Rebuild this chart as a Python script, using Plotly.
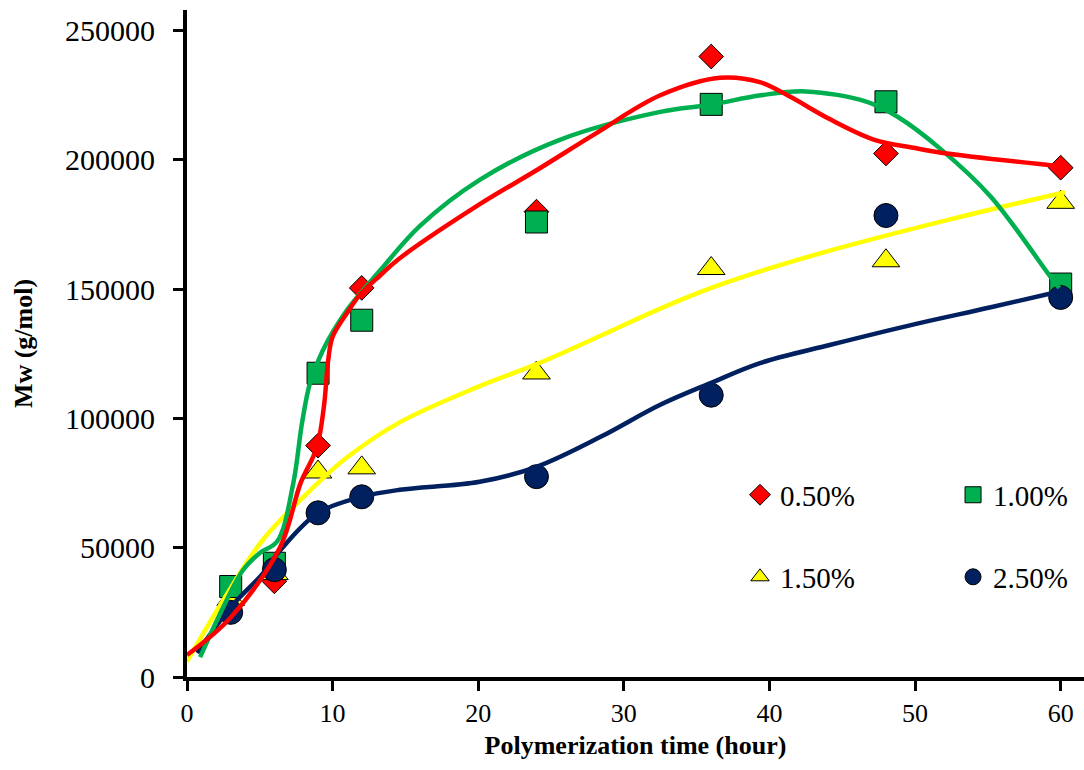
import plotly.graph_objects as go

# ---- marker data (measured points) ----
time_h = [3, 6, 9, 12, 24, 36, 48, 60]
mw_050 = [28000, 37000, 89500, 150500, 180000, 240000, 202500, 197000]
mw_100 = [35000, 44000, 117500, 138000, 176000, 221500, 222500, 152000]
mw_150 = [30000, 40000, 79300, 80900, 117600, 158000, 161000, 183600]
mw_250 = [25000, 41500, 63500, 69700, 77500, 109000, 178500, 146800]

# ---- smoothed trend curves ----
curve_050_t = [0, 3, 6.4, 7.8, 8.9, 9.4, 9.7, 10.0, 11, 11.9, 13.3, 14.5, 20, 24, 28,
               32.5, 36.6, 39.4, 41.4, 44.2, 47.2, 49.9, 51.8, 60]
curve_050_y = [8500, 23000, 50300, 75000, 88500, 104500, 122700, 131600, 140900, 148000,
               155500, 161500, 182500, 196000, 210000, 225000, 231800, 230000, 224500,
               215600, 207800, 204700, 202800, 197500]

curve_100_t = [0.9, 2.3, 3.85, 5.0, 6.2, 7.3, 7.9, 8.45, 9.3, 11, 13.3, 16, 20.1, 25.6,
               32.5, 36, 39.4, 42.5, 46.7, 48.8, 51.8, 55.2, 59.3, 59.9]
curve_100_y = [7700, 24800, 41400, 48000, 52500, 75000, 98300, 113800, 126000, 142000,
               157500, 174500, 192300, 207800, 218600, 221400, 225000, 226500, 222500,
               216700, 204000, 185800, 154800, 150500]

curve_150_t = [0, 2.5, 5.2, 8.7, 11, 14.6, 20.1, 24, 28.4, 32.5, 36, 39.4, 44.2, 52.4, 60.3]
curve_150_y = [6000, 29800, 53000, 73500, 85000, 98500, 112500, 121000, 132000, 142500,
               150500, 157000, 165000, 177000, 187500]

curve_250_t = [0.7, 3, 5.2, 6.4, 9, 12, 14.6, 20.1, 24, 28.4, 32.5, 36, 39.4, 44.2, 50,
               55.2, 60.2]
curve_250_y = [9300, 27000, 40000, 49000, 63500, 69700, 72400, 75500, 81300, 92900, 105300,
               113800, 121500, 128500, 136500, 143000, 149500]

colors = {"0.50%": "#FF0000", "1.00%": "#00B050", "1.50%": "#FFFF00", "2.50%": "#002060"}

FONT = "Liberation Serif"

fig = go.Figure()

# markers (drawn first, lines on top)
marker_specs = [
    ("0.50%", mw_050, "diamond", 19, "legend"),
    ("1.50%", mw_150, "triangle-up", 24, "legend3"),
    ("1.00%", mw_100, "square", 22, "legend2"),
    ("2.50%", mw_250, "circle", 24, "legend4"),
]
for name, ys, sym, sz, lg in marker_specs:
    fig.add_trace(go.Scatter(
        x=time_h, y=ys, mode="markers", name=name, legend=lg,
        marker=dict(symbol=sym, size=sz, color=colors[name],
                    line=dict(color="black", width=1)),
        cliponaxis=False,
    ))

# smoothed curves
curve_specs = [
    ("2.50%", curve_250_t, curve_250_y),
    ("1.50%", curve_150_t, curve_150_y),
    ("1.00%", curve_100_t, curve_100_y),
    ("0.50%", curve_050_t, curve_050_y),
]
for name, xs, ys in curve_specs:
    fig.add_trace(go.Scatter(
        x=xs, y=ys, mode="lines", showlegend=False,
        line=dict(color=colors[name], width=4.5, shape="spline", smoothing=1),
        cliponaxis=False,
    ))

axis_common = dict(
    showline=True, linecolor="black", linewidth=4, mirror=False,
    ticks="outside", ticklen=10, tickwidth=3, tickcolor="black",
    showgrid=False, zeroline=False,
)


def legend_box(x, y):
    return dict(orientation="h", x=x, y=y, xanchor="left", yanchor="middle",
                font=dict(family=FONT, size=29, color="black"),
                bgcolor="rgba(0,0,0,0)")


fig.update_layout(
    width=1084, height=770, autosize=False,
    margin=dict(l=187, r=0, t=10, b=93),
    paper_bgcolor="white", plot_bgcolor="white",
    font=dict(family=FONT, color="black"),
    xaxis=dict(
        range=[0, 61.6], tickvals=[0, 10, 20, 30, 40, 50, 60],
        tickfont=dict(family=FONT, size=26, color="black"),
        title=dict(text="Polymerization time (hour)", standoff=10,
                   font=dict(family=FONT, size=26, color="black", weight="bold")),
        **axis_common,
    ),
    yaxis=dict(
        range=[0, 258000], tickvals=[0, 50000, 100000, 150000, 200000, 250000],
        ticktext=["0", "50000", "100000", "150000", "200000", "250000"],
        tickfont=dict(family=FONT, size=30, color="black"),
        ticklabelstandoff=12,
        title=dict(text="Mw (g/mol)", standoff=26,
                   font=dict(family=FONT, size=26, color="black", weight="bold")),
        **axis_common,
    ),
    legend=legend_box(0.6165, 0.273),
    legend2=legend_box(0.854, 0.273),
    legend3=legend_box(0.6165, 0.150),
    legend4=legend_box(0.854, 0.150),
)

fig.write_html("out.html", config={"displayModeBar": False},
               post_script="document.body.style.margin='0px';")
